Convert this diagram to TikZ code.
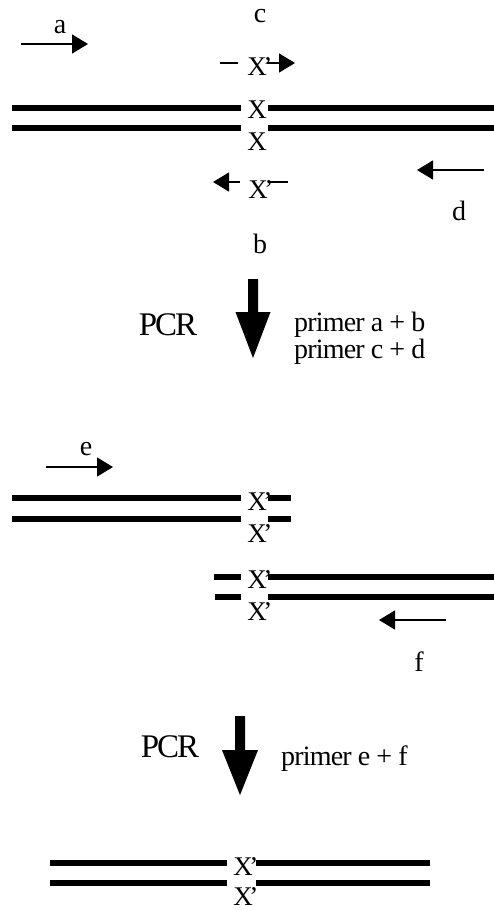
\documentclass[tikz,border=0pt]{standalone}
\usepackage{fontspec}
\setmainfont{Liberation Serif}
\usetikzlibrary{arrows.meta}
\tikzset{
  strand/.style={line width=6.5pt, line cap=butt},
  primer/.style={line width=1.4pt, -{Triangle[length=16pt,width=19pt]}},
  stub/.style={line width=1.4pt},
  lbl/.style={inner sep=0pt, anchor=base, font=\fontsize{28}{30}\selectfont},
  site/.style={inner sep=0pt, anchor=base, font=\fontsize{27}{29}\selectfont},
  pcr/.style={inner sep=0pt, anchor=base, font=\fontsize{33}{35}\selectfont\addfontfeature{LetterSpace=-6}},
  note/.style={inner sep=0pt, anchor=base west, font=\fontsize{28}{30}\selectfont\addfontfeature{LetterSpace=-3}},
  bigarrow/.style={fill=black, draw=none}
}
% X with a prime that hangs over its right shoulder
\newcommand{\Xp}{X\rlap{\kern-3.5pt’}}
\begin{document}
\begin{tikzpicture}[x=1pt, y=-1pt]
\useasboundingbox (0,0) rectangle (494,910);

% ---------- starting template with primers a, b, c, d ----------
\coordinate (a1) at (21,44);  \coordinate (a2) at (88,44);
\draw[primer] (a1) -- (a2);
\node[lbl] (la) at (60,33) {a};
\node[lbl] (lc) at (260,23) {c};

\coordinate (c0) at (220,63); \coordinate (c1) at (238,63);
\draw[stub] (c0) -- (c1);
\node[site] (xc) at (257,75) {\Xp};
\coordinate (c2) at (267,63); \coordinate (c3) at (295,63);
\draw[primer] (c2) -- (c3);

\coordinate (t1) at (12,108);  \coordinate (t2) at (241,108);
\coordinate (t3) at (268,108); \coordinate (t4) at (494,108);
\coordinate (u1) at (12,128);  \coordinate (u2) at (241,128);
\coordinate (u3) at (268,128); \coordinate (u4) at (494,128);
\draw[strand] (t1) -- (t2) (t3) -- (t4);
\draw[strand] (u1) -- (u2) (u3) -- (u4);
\node[site] (x1) at (257,118) {X};
\node[site] (x2) at (257,150) {X};

\coordinate (b0) at (240,182); \coordinate (b1) at (213,182);
\draw[primer] (b0) -- (b1);
\node[site] (xb) at (258,198) {\Xp};
\coordinate (b2) at (268,182); \coordinate (b3) at (288,182);
\draw[stub] (b2) -- (b3);

\coordinate (d0) at (484,170); \coordinate (d1) at (417,170);
\draw[primer] (d0) -- (d1);
\node[lbl] (ld) at (459,220) {d};
\node[lbl] (lb) at (260,253) {b};

% ---------- first PCR step ----------
\fill[bigarrow] (248,279) -- (258,279) -- (258,312) -- (270.5,312) -- (253,358)
  -- (235.5,312) -- (248,312) -- cycle;
\node[pcr] (pcr1) at (168,335) {PCR};
\node[note] (n1) at (294,331) {primer a + b};
\node[note] (n2) at (294,358) {primer c + d};

% ---------- two overlapping products, primers e and f ----------
\coordinate (e1) at (46,467); \coordinate (e2) at (113,467);
\draw[primer] (e1) -- (e2);
\node[lbl] (le) at (86,455) {e};

\coordinate (p1) at (12,498);  \coordinate (p2) at (241,498);
\coordinate (p3) at (268,498); \coordinate (p4) at (291,498);
\coordinate (q1) at (12,519);  \coordinate (q2) at (241,519);
\coordinate (q3) at (268,519); \coordinate (q4) at (291,519);
\draw[strand] (p1) -- (p2) (p3) -- (p4);
\draw[strand] (q1) -- (q2) (q3) -- (q4);
\node[site] (x3) at (257,510) {\Xp};
\node[site] (x4) at (257,542) {\Xp};

\coordinate (r1) at (214,577); \coordinate (r2) at (241,577);
\coordinate (r3) at (268,577); \coordinate (r4) at (494,577);
\coordinate (s1) at (215,597); \coordinate (s2) at (241,597);
\coordinate (s3) at (268,597); \coordinate (s4) at (494,597);
\draw[strand] (r1) -- (r2) (r3) -- (r4);
\draw[strand] (s1) -- (s2) (s3) -- (s4);
\node[site] (x5) at (257,588) {\Xp};
\node[site] (x6) at (257,620) {\Xp};

\coordinate (f0) at (446,620); \coordinate (f1) at (379,620);
\draw[primer] (f0) -- (f1);
\node[lbl] (lf) at (419,671) {f};

% ---------- second PCR step ----------
\fill[bigarrow] (235,716) -- (245,716) -- (245,750) -- (258,750) -- (240,795)
  -- (222,750) -- (235,750) -- cycle;
\node[pcr] (pcr2) at (170,757) {PCR};
\node[note] (n3) at (281,765) {primer e + f};

% ---------- fused product ----------
\coordinate (v1) at (50,863);  \coordinate (v2) at (227,863);
\coordinate (v3) at (256,863); \coordinate (v4) at (430,863);
\coordinate (w1) at (50,883);  \coordinate (w2) at (227,883);
\coordinate (w3) at (256,883); \coordinate (w4) at (430,883);
\draw[strand] (v1) -- (v2) (v3) -- (v4);
\draw[strand] (w1) -- (w2) (w3) -- (w4);
\node[site] (x7) at (243,875) {\Xp};
\node[site] (x8) at (243,905) {\Xp};
\end{tikzpicture}
\end{document}
